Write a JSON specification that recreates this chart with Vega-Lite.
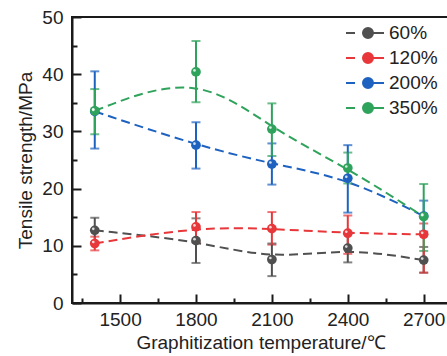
{
  "$schema": "https://vega.github.io/schema/vega-lite/v6.json",
  "autosize": "none",
  "width": 377,
  "height": 286,
  "padding": {"left": 72, "top": 17, "right": 0, "bottom": 53},
  "background": "white",
  "config": {
    "font": "Liberation Sans",
    "view": {"stroke": "#1a1a1a", "strokeWidth": 2},
    "axis": {"grid": false, "labelFont": "Liberation Sans", "titleFont": "Liberation Sans", "labelFontSize": 19, "titleFontSize": 19, "titleFontWeight": "normal", "labelColor": "#222", "titleColor": "#222", "domainColor": "#1a1a1a", "domainWidth": 2, "tickColor": "#1a1a1a", "tickWidth": 2}
  },
  "data": {"values": [
    {"s": "60%", "t": 1400, "v": 12.7, "lo": 10.6, "hi": 14.9},
    {"s": "60%", "t": 1800, "v": 10.9, "lo": 7.0, "hi": 14.8},
    {"s": "60%", "t": 2100, "v": 7.6, "lo": 4.7, "hi": 10.4},
    {"s": "60%", "t": 2400, "v": 9.6, "lo": 7.1, "hi": 12.1},
    {"s": "60%", "t": 2700, "v": 7.5, "lo": 5.3, "hi": 9.8},
    {"s": "120%", "t": 1400, "v": 10.4, "lo": 9.2, "hi": 11.6},
    {"s": "120%", "t": 1800, "v": 13.3, "lo": 10.6, "hi": 15.9},
    {"s": "120%", "t": 2100, "v": 13.0, "lo": 10.2, "hi": 15.9},
    {"s": "120%", "t": 2400, "v": 12.2, "lo": 8.6, "hi": 15.3},
    {"s": "120%", "t": 2700, "v": 12.0, "lo": 5.3, "hi": 13.9},
    {"s": "200%", "t": 1400, "v": 33.5, "lo": 27.0, "hi": 40.5},
    {"s": "200%", "t": 1800, "v": 27.6, "lo": 23.5, "hi": 31.6},
    {"s": "200%", "t": 2100, "v": 24.3, "lo": 20.7, "hi": 27.9},
    {"s": "200%", "t": 2400, "v": 21.8, "lo": 15.8, "hi": 27.6},
    {"s": "200%", "t": 2700, "v": 15.2, "lo": 12.5, "hi": 17.9},
    {"s": "350%", "t": 1400, "v": 33.6, "lo": 29.5, "hi": 37.4},
    {"s": "350%", "t": 1800, "v": 40.4, "lo": 35.1, "hi": 45.8},
    {"s": "350%", "t": 2100, "v": 30.4, "lo": 25.7, "hi": 34.9},
    {"s": "350%", "t": 2400, "v": 23.6, "lo": 20.9, "hi": 26.3},
    {"s": "350%", "t": 2700, "v": 15.1, "lo": 9.1, "hi": 20.8}
  ]},
  "encoding": {
    "color": {
      "field": "s", "type": "nominal", "sort": ["60%", "120%", "200%", "350%"],
      "scale": {"domain": ["60%", "120%", "200%", "350%"], "range": ["#505050", "#e8373a", "#1e62c0", "#2fa35c"]},
      "legend": {
        "title": null, "orient": "none", "legendX": 285, "legendY": 5, "padding": 0,
        "symbolType": "M-2.2,0H-1.3M-0.5,0A0.5,0.5 0 1,0 0.5,0A0.5,0.5 0 1,0 -0.5,0ZM0.5,0H1.6",
        "symbolSize": 400, "symbolStrokeWidth": 2, "labelFontSize": 19, "labelFont": "Liberation Sans", "labelColor": "#222", "labelOffset": 10, "rowPadding": 4,
        "encode": {"symbols": {"update": {"stroke": {"scale": "color", "field": "value"}, "fill": {"scale": "color", "field": "value"}, "opacity": {"value": 1}}}}
      }
    }
  },
  "layer": [
    {
      "mark": {"type": "line", "interpolate": "basis", "strokeDash": [9, 5], "strokeWidth": 2},
      "encoding": {
        "x": {"field": "t", "type": "quantitative", "scale": {"domain": [1310, 2800], "nice": false, "zero": false}, "axis": {"orient": "bottom", "title": "Graphitization temperature/℃", "values": [1500, 1800, 2100, 2400, 2700], "format": "d", "tickSize": -9, "labelPadding": 16, "titlePadding": 4, "labelFlush": false}},
        "y": {"field": "v", "type": "quantitative", "scale": {"domain": [0, 50], "nice": false}, "axis": {"orient": "left", "title": "Tensile strength/MPa", "values": [0, 10, 20, 30, 40, 50], "tickSize": -9, "labelPadding": 18, "titlePadding": 6, "labelFlush": false}}
      }
    },
    {
      "mark": {"type": "errorbar", "ticks": {"size": 9, "thickness": 2}, "thickness": 2},
      "encoding": {
        "x": {"field": "t", "type": "quantitative", "axis": {"orient": "bottom", "title": null, "values": [1350, 1650, 1950, 2250, 2550], "labels": false, "domain": false, "tickSize": -5}},
        "y": {"field": "lo", "type": "quantitative", "axis": {"orient": "left", "title": null, "values": [5, 15, 25, 35, 45], "labels": false, "domain": false, "tickSize": -5}},
        "y2": {"field": "hi"}
      }
    },
    {
      "mark": {"type": "point", "filled": true, "size": 95, "opacity": 1},
      "encoding": {"x": {"field": "t", "type": "quantitative", "axis": null}, "y": {"field": "v", "type": "quantitative", "axis": null}}
    },
    {
      "mark": {"type": "point", "filled": true, "size": 7, "opacity": 0.8, "xOffset": -1.5, "yOffset": -1.5},
      "encoding": {"x": {"field": "t", "type": "quantitative", "axis": null}, "y": {"field": "v", "type": "quantitative", "axis": null}, "color": {"value": "white"}}
    }
  ],
  "resolve": {"axis": {"x": "independent", "y": "independent"}}
}
